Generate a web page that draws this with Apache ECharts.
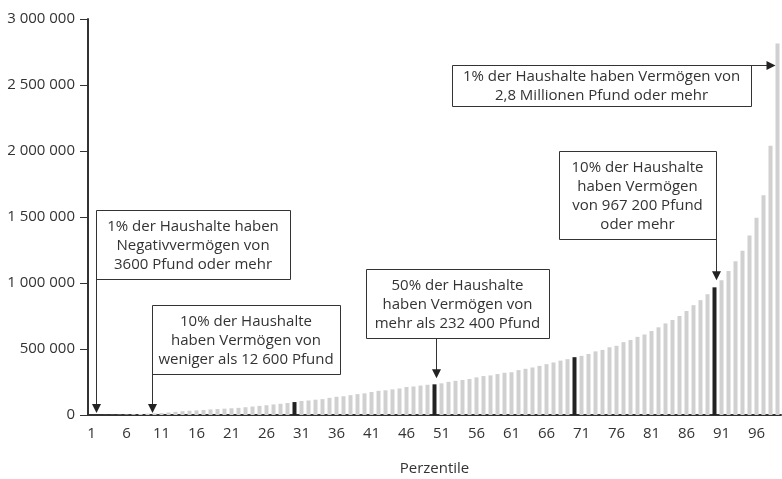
<!DOCTYPE html>
<html>
<head>
<meta charset="utf-8">
<style>
  html, body { margin: 0; padding: 0; background: #fff; }
  #main { width: 782px; height: 479px; }
</style>
<script src="https://cdn.jsdelivr.net/npm/echarts@6/dist/echarts.min.js"></script>
</head>
<body>
<div id="main"></div>
<script>
// Perzentile 1..99
var percentiles = [];
for (var p = 1; p <= 99; p++) percentiles.push(String(p));

// Vermögen je Perzentil (Pfund)
var wealth = [
    0, 0, 500, 1000, 2000, 3500, 6000, 8000, 10500, 12600,
    15000, 19000, 24000, 29000, 32000, 35000, 38000, 42000, 45000, 48000,
    51000, 54000, 59000, 64000, 69000, 74000, 80000, 85000, 91000, 98000,
    106000, 110000, 116000, 120000, 130000, 138000, 142000, 150000, 158000, 164000,
    174000, 183000, 187000, 194000, 201000, 212000, 216000, 223000, 229000, 232400,
    240000, 251000, 259000, 265000, 273000, 285000, 295000, 300000, 310000, 320000,
    324000, 340000, 350000, 360000, 372000, 385000, 398000, 412000, 423000, 438000,
    448000, 462000, 482000, 493000, 513000, 524000, 552000, 568000, 592000, 610000,
    636000, 664000, 694000, 720000, 750000, 788000, 832000, 870000, 915000, 967200,
    1020000, 1090000, 1165000, 1245000, 1360000, 1495000, 1665000, 2040000, 2815000
];

// hervorgehobene Perzentile
var highlighted = ['30', '50', '70', '90'];

var yTicks = [0, 500000, 1000000, 1500000, 2000000, 2500000, 3000000];

var FONT = '"Open Sans", "DejaVu Sans", sans-serif';
var chart = echarts.init(document.getElementById('main'));

function fmt(v) {
    return String(v).replace(/\B(?=(\d{3})+(?!\d))/g, ' ');
}

var barData = [];
for (var i = 0; i < wealth.length; i++) {
    var dark = highlighted.indexOf(percentiles[i]) >= 0;
    barData.push({ value: wealth[i], itemStyle: { color: dark ? '#222222' : '#d0d0d0' } });
}

var option = {
    animation: false,
    grid: { left: 88, top: 19, width: 693, bottom: 64, outerBoundsMode: 'none' },
    xAxis: {
        type: 'category',
        data: percentiles,
        name: 'Perzentile',
        nameLocation: 'middle',
        nameGap: 46,
        nameTextStyle: { fontFamily: FONT, fontSize: 15, color: '#333' },
        axisLine: { lineStyle: { color: '#333', width: 2 } },
        axisTick: { interval: 4, length: 6, lineStyle: { color: '#333' } },
        axisLabel: { interval: 4, margin: 11, fontFamily: FONT, fontSize: 15, color: '#333' }
    },
    yAxis: {
        type: 'value',
        min: yTicks[0],
        max: yTicks[yTicks.length - 1],
        interval: 500000,
        splitLine: { show: false },
        axisLine: { show: true, lineStyle: { color: '#333', width: 2 } },
        axisTick: { show: true, length: 8, lineStyle: { color: '#333' } },
        axisLabel: { margin: 13, fontFamily: FONT, fontSize: 15, color: '#333', formatter: fmt }
    },
    series: [{
        type: 'bar',
        data: barData,
        barWidth: 4,
        z: 1
    }]
};
chart.setOption(option);

// Anmerkungen: Kästen mit Pfeilen
var notes = [
    { box: [96, 210, 194, 69], text: '1% der Haushalte haben\nNegativvermögen von\n3600 Pfund oder mehr',
      arrow: { dir: 'down', x: 96, from: 279, cat: 0, gap: 2 } },
    { box: [152, 305, 188, 69], text: '10% der Haushalte\nhaben Vermögen von\nweniger als 12 600 Pfund',
      arrow: { dir: 'down', x: 152, from: 374, cat: 9, gap: 2 } },
    { box: [366, 269, 183, 69], text: '50% der Haushalte\nhaben Vermögen von\nmehr als 232 400 Pfund',
      arrow: { dir: 'down', x: 436, from: 338, cat: 49, gap: 6 } },
    { box: [559, 151, 157, 88], text: '10% der Haushalte\nhaben Vermögen\nvon 967 200 Pfund\noder mehr',
      arrow: { dir: 'down', x: 716, from: 239, cat: 89, gap: 7 } },
    { box: [452, 65, 299, 41], text: '1% der Haushalte haben Vermögen von\n2,8 Millionen Pfund oder mehr',
      arrow: { dir: 'right', y: 65, from: 751, cat: 98, gap: 0 } }
];

var graphics = [];
notes.forEach(function (n) {
    var b = n.box;
    graphics.push({
        type: 'rect', z: 10,
        shape: { x: b[0] + 0.5, y: b[1] + 0.5, width: b[2], height: b[3] },
        style: { fill: '#fff', stroke: '#333', lineWidth: 1 }
    });
    graphics.push({
        type: 'text', z: 11,
        style: {
            text: n.text, x: b[0] + b[2] / 2, y: b[1] + b[3] / 2 + 1,
            align: 'center', verticalAlign: 'middle',
            font: '15px ' + FONT, lineHeight: 19, fill: '#333'
        }
    });
    var a = n.arrow;
    var pt = chart.convertToPixel({ seriesIndex: 0 }, [a.cat, wealth[a.cat]]);
    if (a.dir === 'down') {
        var tip = pt[1] - a.gap;
        if (a.cat < 10) tip = chart.convertToPixel({ yAxisIndex: 0 }, 0) - a.gap;
        var x = a.x + 0.5;
        graphics.push({
            type: 'line', z: 10,
            shape: { x1: x, y1: a.from, x2: x, y2: tip - 8 },
            style: { stroke: '#333', lineWidth: 1 }
        });
        graphics.push({
            type: 'polygon', z: 10,
            shape: { points: [[x - 4.5, tip - 9], [x + 4.5, tip - 9], [x, tip]] },
            style: { fill: '#222' }
        });
    } else {
        var tipX = pt[0] - 2 - a.gap;
        var y = a.y + 0.5;
        graphics.push({
            type: 'line', z: 10,
            shape: { x1: a.from, y1: y, x2: tipX - 8, y2: y },
            style: { stroke: '#333', lineWidth: 1 }
        });
        graphics.push({
            type: 'polygon', z: 10,
            shape: { points: [[tipX - 9, y - 4.5], [tipX - 9, y + 4.5], [tipX, y]] },
            style: { fill: '#222' }
        });
    }
});
chart.setOption({ graphic: graphics });
</script>
</body>
</html>
